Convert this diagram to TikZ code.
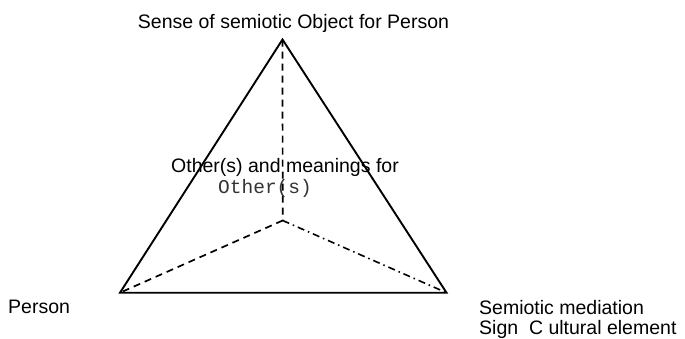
\documentclass[tikz,border=0pt]{standalone}
\usepackage{fontspec}
\setmainfont{Liberation Sans}
\setmonofont{Liberation Mono}
\begin{document}
\begin{tikzpicture}[x=1pt,y=-1pt,
  lbl/.style={inner sep=0pt,font=\fontsize{19.5}{22}\selectfont},
  edge/.style={line width=1.9pt,line join=miter},
  hidden/.style={line width=1.7pt,dash pattern=on 7pt off 5pt},
  hiddendd/.style={line width=1.6pt,dash pattern=on 7pt off 4pt on 1.5pt off 4pt}]
\useasboundingbox (0,0) rectangle (685,338);
\coordinate (A) at (282.5,39.5);
\coordinate (L) at (120,292.7);
\coordinate (R) at (446.5,292.7);
\coordinate (C) at (282.7,220.5);
\draw[edge] (A) -- (L) -- (R) -- cycle;
\draw[hidden] (A) -- (C);
\draw[hidden] (C) -- (L);
\draw[hiddendd] (C) -- (R);
\node[lbl,anchor=base] (top) at (293.5,28) {Sense of semiotic Object for Person};
\node[lbl,anchor=base west] (oth) at (171,172) {Other(s) and meanings for};
\node[lbl,anchor=base west,font=\fontsize{19.5}{22}\ttfamily\color{black!80}] (oth2) at (218,193) {Other(s)};
\node[lbl,anchor=base west] (per) at (8,313) {Person};
\node[lbl,anchor=base west] (sem) at (479,314) {Semiotic mediation};
\node[lbl,anchor=base west] (sign) at (479,334) {Sign\ \ C ultural element};
\end{tikzpicture}
\end{document}
